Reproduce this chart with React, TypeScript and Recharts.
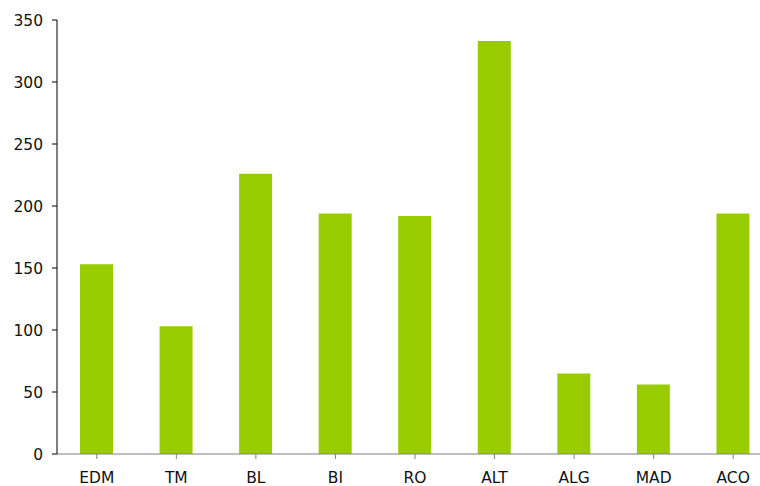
import { BarChart, Bar, XAxis, YAxis } from 'recharts'

const categories = ['EDM', 'TM', 'BL', 'BI', 'RO', 'ALT', 'ALG', 'MAD', 'ACO']
const values = [153, 103, 226, 194, 192, 333, 65, 56, 194]
const yTicks = [0, 50, 100, 150, 200, 250, 300, 350]

const data = categories.map((name, i) => ({ name, value: values[i] }))

const font = { fontFamily: 'DejaVu Sans, Verdana, sans-serif', fontSize: 15.5, fill: '#111' }

export default function App() {
  return (
    <div
      style={{
        position: 'absolute',
        left: 0,
        top: 0,
        width: 760,
        height: 486,
        overflow: 'hidden',
        background: '#fff',
      }}
    >
      <BarChart
        width={773}
        height={486}
        data={data}
        margin={{ top: 20, right: 0, bottom: 2, left: 0 }}
      >
        <XAxis
          dataKey="name"
          tick={font}
          tickSize={5}
          tickMargin={13}
          height={30}
          stroke="#808080"
          interval={0}
        />
        <YAxis
          domain={[0, 350]}
          ticks={yTicks}
          tick={font}
          tickSize={5}
          tickMargin={9}
          width={57}
          stroke="#000"
          interval={0}
        />
        <Bar dataKey="value" fill="#99cc00" barSize={33} isAnimationActive={false} />
      </BarChart>
    </div>
  )
}
